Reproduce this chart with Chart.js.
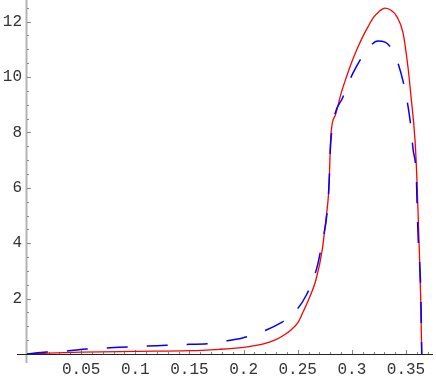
<!DOCTYPE html>
<html>
<head>
<meta charset="utf-8">
<script src="https://cdn.jsdelivr.net/npm/chart.js@4/dist/chart.umd.min.js"></script>
<style>
html,body{margin:0;padding:0;background:#fff;}
#wrap{width:436px;height:381px;}
</style>
</head>
<body>
<div id="wrap"><canvas id="c" width="436" height="381"></canvas></div>
<script>
// Red (solid) curve
const redX = [0, 0.02, 0.05, 0.1, 0.15, 0.178, 0.19, 0.2, 0.21, 0.22, 0.2287, 0.236, 0.2438, 0.25, 0.2558, 0.261, 0.2668, 0.2726, 0.276, 0.2785, 0.2791, 0.2806, 0.285, 0.29, 0.295, 0.3, 0.305, 0.31, 0.315, 0.32, 0.325, 0.3306, 0.3365, 0.3417, 0.3472, 0.3518, 0.3546, 0.3583, 0.3601, 0.362, 0.3636, 0.3645];
const redY = [0, 0.03, 0.065, 0.095, 0.12, 0.17, 0.2, 0.24, 0.3, 0.38, 0.5, 0.65, 0.87, 1.12, 1.59, 2.05, 2.67, 3.75, 4.84, 5.8, 6.28, 7.9, 8.65, 9.4, 10.0, 10.55, 11.03, 11.45, 11.82, 12.15, 12.36, 12.49, 12.4, 12.17, 11.6, 10.36, 9.3, 7.73, 6.28, 4.1, 1.95, 0];
// Blue (dashed) curve
const blueX = [0, 0.018, 0.037, 0.055, 0.085, 0.12, 0.15, 0.166, 0.18, 0.199, 0.22, 0.236, 0.2438, 0.258, 0.2676, 0.2726, 0.2772, 0.2791, 0.2800, 0.2824, 0.2918, 0.301, 0.3139, 0.324, 0.3306, 0.337, 0.3426, 0.3491, 0.3537, 0.3565, 0.3595, 0.3603, 0.3612, 0.3628, 0.3637, 0.3645];
const blueY = [0, 0.07, 0.11, 0.18, 0.24, 0.3, 0.35, 0.37, 0.45, 0.58, 0.85, 1.16, 1.37, 2.13, 3.1, 4.04, 5.13, 6.28, 7.3, 8.27, 9.28, 10.14, 10.97, 11.3, 11.26, 11.0, 10.5, 9.53, 8.45, 7.4, 6.4, 5.3, 4.2, 3.1, 2.1, 0];
// Axis ticks
const xTicks = [0.05, 0.1, 0.15, 0.2, 0.25, 0.3, 0.35];
const xTickLabels = ["0.05", "0.1", "0.15", "0.2", "0.25", "0.3", "0.35"];
const yTicks = [2, 4, 6, 8, 10, 12];
const yTickLabels = ["2", "4", "6", "8", "10", "12"];
const xMinorStep = 0.01;
const yMinorStep = 0.5;
const xMax = 0.374, yMax = 12.78;

const toPts = (xs, ys) => xs.map((x, i) => ({x: x, y: ys[i]}));

const axesPlugin = {
  id: 'mmaAxes',
  beforeDatasetsDraw(chart) {
    const ctx = chart.ctx;
    const xs = chart.scales.x, ys = chart.scales.y;
    const x0 = xs.getPixelForValue(0), y0 = ys.getPixelForValue(0);
    ctx.save();
    // y axis (gray, thick)
    ctx.strokeStyle = '#b4b4b4';
    ctx.lineWidth = 2;
    ctx.beginPath();
    ctx.moveTo(x0 - 0.5, 0);
    ctx.lineTo(x0 - 0.5, y0 + 9);
    ctx.stroke();
    // y ticks
    ctx.strokeStyle = '#888';
    ctx.lineWidth = 1;
    for (let v = yMinorStep; v < yMax; v += yMinorStep) {
      const py = Math.round(ys.getPixelForValue(v)) + 0.5;
      const major = Math.abs(v / 2 - Math.round(v / 2)) < 1e-6;
      ctx.beginPath();
      ctx.moveTo(x0, py);
      ctx.lineTo(x0 + (major ? 4 : 2), py);
      ctx.stroke();
    }
    // x axis
    ctx.strokeStyle = '#222';
    ctx.lineWidth = 1;
    ctx.beginPath();
    ctx.moveTo(x0 - 10, Math.round(y0) + 0.5);
    ctx.lineTo(xs.right + 1, Math.round(y0) + 0.5);
    ctx.stroke();
    // x ticks
    ctx.strokeStyle = '#888';
    for (let k = 1; k * xMinorStep < xMax; k++) {
      const v = k * xMinorStep;
      const px = Math.round(xs.getPixelForValue(v)) + 0.5;
      const major = k % 5 === 0;
      ctx.beginPath();
      ctx.moveTo(px, Math.round(y0));
      ctx.lineTo(px, Math.round(y0) - (major ? 4 : 2));
      ctx.stroke();
    }
    ctx.restore();
  }
};

const tickFont = {family: 'Liberation Mono', size: 16};

new Chart(document.getElementById('c'), {
  type: 'line',
  data: {
    datasets: [
      {
        data: toPts(blueX, blueY),
        borderColor: '#0000ff',
        borderWidth: 1.5,
        borderDash: [21, 19],
        pointRadius: 0,
        cubicInterpolationMode: 'monotone',
        fill: false
      },
      {
        data: toPts(redX, redY),
        borderColor: '#ff0000',
        borderWidth: 1.3,
        pointRadius: 0,
        cubicInterpolationMode: 'monotone',
        fill: false
      }
    ]
  },
  options: {
    responsive: false,
    animation: false,
    events: [],
    layout: {padding: {left: 0, right: 4, top: 0, bottom: 0}},
    plugins: {legend: {display: false}, tooltip: {enabled: false}},
    scales: {
      x: {
        type: 'linear',
        min: 0,
        max: xMax,
        afterBuildTicks(s) { s.ticks = xTicks.map(v => ({value: v})); },
        afterFit(s) { s.height = 27; s.paddingLeft = 0; s.paddingRight = 0; },
        grid: {display: false, drawTicks: false},
        border: {display: false},
        ticks: {
          autoSkip: false, maxRotation: 0, padding: 6,
          color: '#333', font: tickFont,
          callback: (v, i) => xTickLabels[i]
        }
      },
      y: {
        type: 'linear',
        min: 0,
        max: yMax,
        afterBuildTicks(s) { s.ticks = yTicks.map(v => ({value: v})); },
        afterFit(s) { s.width = 27; s.paddingTop = 0; s.paddingBottom = 0; },
        grid: {display: false, drawTicks: false},
        border: {display: false},
        ticks: {
          autoSkip: false, padding: 5,
          color: '#333', font: tickFont,
          callback: (v, i) => yTickLabels[i]
        }
      }
    }
  },
  plugins: [axesPlugin]
});
</script>
</body>
</html>
